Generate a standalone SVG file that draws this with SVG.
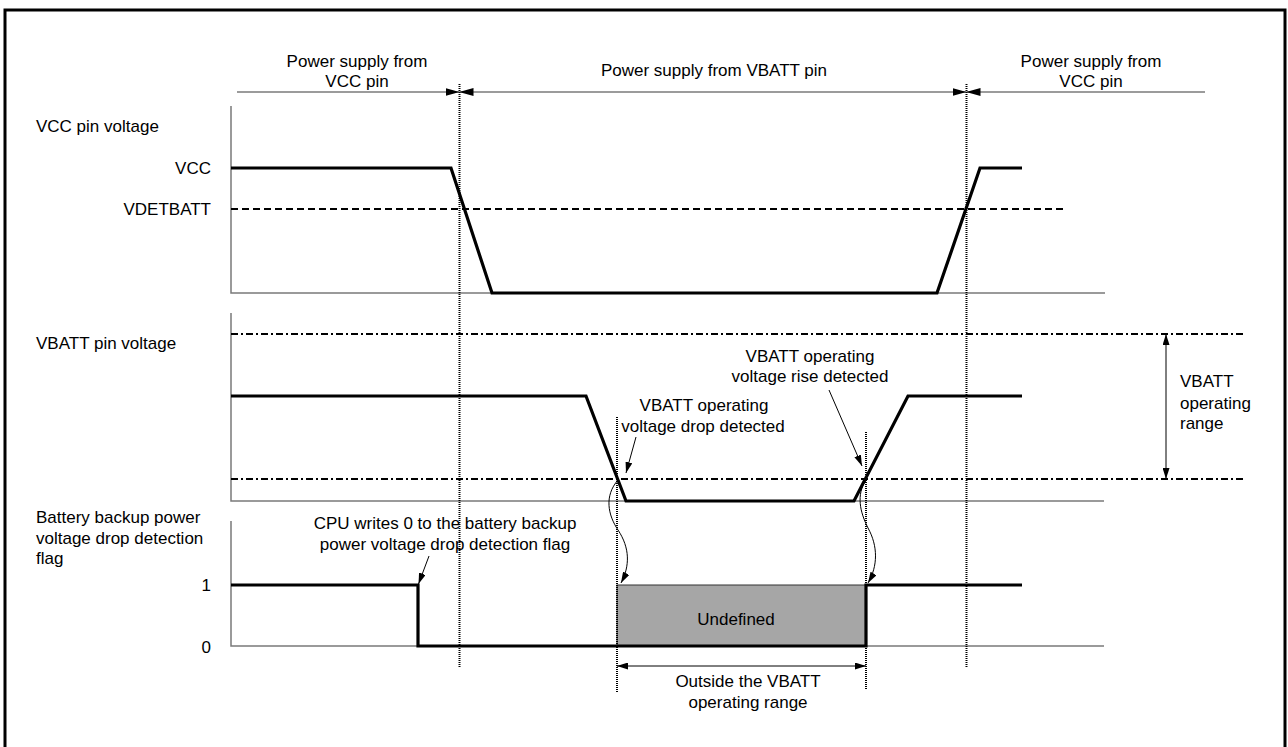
<svg xmlns="http://www.w3.org/2000/svg" width="1288" height="747" viewBox="0 0 1288 747">
<defs>
<style>
text{font-family:"Liberation Sans",Arial,sans-serif;font-size:17px;fill:#000}
.m{text-anchor:middle}
.e{text-anchor:end}
.axis{stroke:#7a7a7a;stroke-width:1.5;fill:none}
.sig{stroke:#000;stroke-width:3.2;fill:none;stroke-linejoin:miter}
.dash{stroke:#000;stroke-width:2;stroke-dasharray:7 4;fill:none}
.dd{stroke:#000;stroke-width:2;stroke-dasharray:7 3 2 3;fill:none}
.dot{stroke:#000;stroke-width:2;stroke-dasharray:1 1;fill:none}
.thin{stroke:#000;stroke-width:1;fill:none}
.top{stroke:#7a7a7a;stroke-width:1.5;fill:none}
</style>
<marker id="tri" viewBox="0 0 14 8" refX="14" refY="4" markerWidth="14" markerHeight="8" markerUnits="userSpaceOnUse" orient="auto-start-reverse">
<path d="M0,0 L14,4 L0,8 z" fill="#000"/>
</marker>
<marker id="ah" viewBox="0 0 11 7" refX="11" refY="3.5" markerWidth="11" markerHeight="7" markerUnits="userSpaceOnUse" orient="auto-start-reverse">
<path d="M0,0 L11,3.5 L0,7 z" fill="#000"/>
</marker>
</defs>
<rect x="5" y="10" width="1280" height="760" fill="#fff" stroke="#000" stroke-width="3"/>

<g id="phase-labels">
<text class="m" x="357" y="67">Power supply from</text>
<text class="m" x="357" y="87">VCC pin</text>
<text class="m" x="714" y="76">Power supply from VBATT pin</text>
<text class="m" x="1091" y="67">Power supply from</text>
<text class="m" x="1091" y="87">VCC pin</text>
</g>

<g id="vcc-section">
<text x="36" y="132">VCC pin voltage</text>
<text class="e" x="211" y="174">VCC</text>
<text class="e" x="211" y="215">VDETBATT</text>
<path class="axis" d="M231,106 V293 H1105"/>
<path class="dash" d="M231,209 H1063"/>
<path class="sig" d="M231,168 H451 L492,293 H937 L980,168 H1022"/>
</g>

<g id="vbatt-section">
<text x="36" y="349">VBATT pin voltage</text>
<path class="axis" d="M231,313 V501 H1104"/>
<path class="dd" d="M231,334 H1245"/>
<path class="dd" d="M231,479 H1245"/>
<path class="sig" d="M231,396 H586 L626,501 H854 L908,396 H1022"/>
<text x="1180" y="387">VBATT</text>
<text x="1180" y="409">operating</text>
<text x="1180" y="429">range</text>
</g>

<g id="flag-section">
<text x="36" y="523">Battery backup power</text>
<text x="36" y="544">voltage drop detection</text>
<text x="36" y="564">flag</text>
<text class="e" x="211" y="591">1</text>
<text class="e" x="211" y="653">0</text>
<path class="axis" d="M231,521 V646 H1104"/>
<rect id="undefined" x="617" y="585" width="249" height="61" fill="#a6a6a6" stroke="#333" stroke-width="1"/>
<text class="m" x="736" y="625">Undefined</text>
<path class="sig" d="M231,585 H418 V646 H866 V585 H1022"/>
</g>

<g id="annotations">
<text class="m" x="445" y="529">CPU writes 0 to the battery backup</text>
<text class="m" x="445" y="550">power voltage drop detection flag</text>
<text class="m" x="704" y="411">VBATT operating</text>
<text class="m" x="703" y="432">voltage drop detected</text>
<text class="m" x="810" y="362">VBATT operating</text>
<text class="m" x="810" y="382">voltage rise detected</text>
<text class="m" x="748" y="687">Outside the VBATT</text>
<text class="m" x="748" y="708">operating range</text>
</g>

<g id="connectors">
<path class="top" d="M237,92 H459.5" marker-end="url(#tri)"/>
<path class="top" d="M459.5,92 H966.5" marker-start="url(#tri)" marker-end="url(#tri)"/>
<path class="top" d="M966.5,92 H1205" marker-start="url(#tri)"/>
<path class="dot" d="M459.5,84 V667"/>
<path class="dot" d="M966.5,84 V667"/>
<path class="dot" d="M617,417 V692"/>
<path class="dot" d="M866,432 V690"/>
<path class="thin" d="M1166,334 V479" marker-start="url(#ah)" marker-end="url(#ah)"/>
<path class="thin" d="M617,666 H866" marker-start="url(#ah)" marker-end="url(#ah)"/>
<path class="thin" d="M429,556 L418.5,584" marker-end="url(#ah)"/>
<path class="thin" d="M636,437 L626,473" marker-end="url(#ah)"/>
<path class="thin" d="M829,390 L862,466" marker-end="url(#ah)"/>
<path class="thin" d="M618,480 C604,496 608,515 618,530 C630,548 630,566 621,583" marker-end="url(#ah)"/>
<path class="thin" d="M866,480 C856,495 860,512 868,528 C878,546 878,566 868,583" marker-end="url(#ah)"/>
</g>
</svg>
